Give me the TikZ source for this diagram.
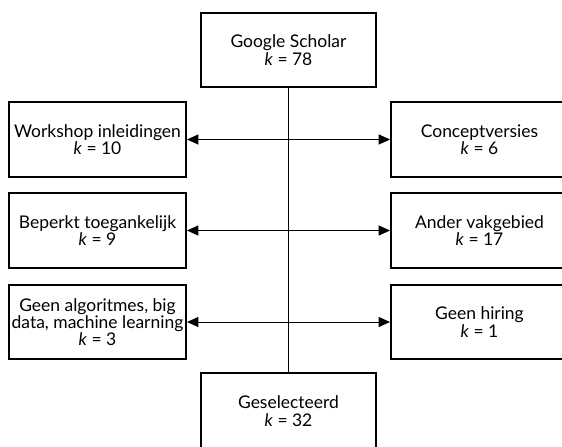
\documentclass[tikz,border=0pt]{standalone}
\usepackage{fontspec}
\setmainfont{Lato}
\usetikzlibrary{arrows.meta}
\begin{document}
\begin{tikzpicture}[x=0.75pt,y=-0.75pt,
  box/.style={draw, line width=1.5pt, rectangle, inner sep=0pt, align=center,
    font=\fontsize{13.1}{13}\selectfont},
  conn/.style={line width=0.75pt},
  twoway/.style={conn, {Triangle[length=8.5pt,width=7.5pt]}-{Triangle[length=8.5pt,width=7.5pt]}}]
\useasboundingbox (0,0) rectangle (562,447);
\node[box, minimum width=131.25pt, minimum height=55.5pt] (gs) at (288.5,50) {Google Scholar\\\textit{k} = 78};
\node[box, minimum width=132.75pt, minimum height=56.25pt] (w) at (97.5,139.5) {Workshop inleidingen\\\textit{k} = 10};
\node[box, minimum width=132.75pt, minimum height=56.25pt] (c) at (479.5,139.5) {Conceptversies\\\textit{k} = 6};
\node[box, minimum width=132.75pt, minimum height=56.25pt] (b) at (97.5,230.5) {Beperkt toegankelijk\\\textit{k} = 9};
\node[box, minimum width=132.75pt, minimum height=56.25pt] (a) at (479.5,230.5) {Ander vakgebied\\\textit{k} = 17};
\node[box, minimum width=132.75pt, minimum height=55.5pt] (g) at (97.5,322) {Geen algoritmes, big\\data, machine learning\\\textit{k} = 3};
\node[box, minimum width=132.75pt, minimum height=55.5pt] (h) at (479.5,322) {Geen hiring\\\textit{k} = 1};
\node[box, minimum width=131.25pt, minimum height=57pt] (sel) at (288.5,411) {Geselecteerd\\\textit{k} = 32};
\draw[conn] (gs.south) -- (sel.north);
\draw[twoway] (w.east) -- (c.west);
\draw[twoway] (b.east) -- (a.west);
\draw[twoway] (g.east) -- (h.west);
\end{tikzpicture}
\end{document}
